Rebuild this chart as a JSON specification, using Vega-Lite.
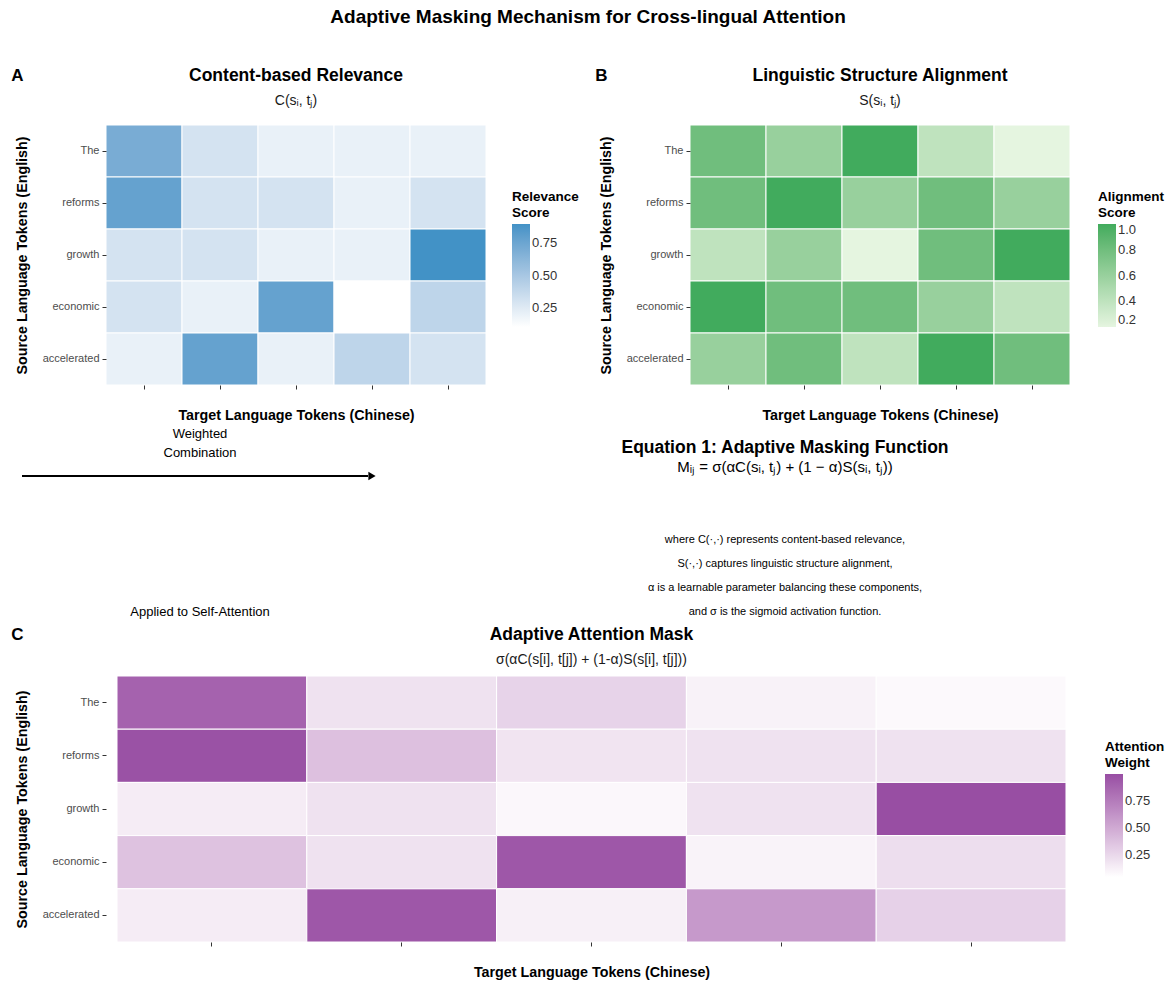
{
  "$schema": "https://vega.github.io/schema/vega-lite/v6.json",
  "background": "white",
  "padding": {"left": 11, "top": 8, "right": 4, "bottom": 4},
  "title": {"text": "Adaptive Masking Mechanism for Cross-lingual Attention", "fontSize": 19, "font": "Liberation Sans", "fontWeight": "bold", "color": "black", "anchor": "middle", "offset": 40},
  "config": {
    "font": "Liberation Sans",
    "view": {"stroke": null},
    "axis": {"domain": false, "grid": false, "ticks": true, "tickColor": "#333333", "tickSize": 4, "labelFont": "Liberation Sans", "labelFontSize": 11, "labelColor": "#4d4d4d", "titleFont": "Liberation Sans", "titleFontSize": 14.3, "titleFontWeight": "bold", "titleColor": "black"},
    "axisX": {"labels": false, "titlePadding": 19},
    "axisY": {"labelPadding": 3, "titlePadding": 13},
    "title": {"font": "Liberation Sans", "fontSize": 17.5, "fontWeight": "bold", "color": "black", "subtitleFont": "Liberation Sans", "subtitleFontSize": 14, "subtitleColor": "#1a1a1a", "subtitlePadding": 9, "offset": 17},
    "legend": {"titleFont": "Liberation Sans", "titleFontSize": 13.5, "titleFontWeight": "bold", "titleColor": "black", "labelFont": "Liberation Sans", "labelFontSize": 13, "labelColor": "#333333", "gradientLength": 103, "gradientThickness": 18, "gradientStrokeWidth": 0, "titlePadding": 5}
  },
  "datasets": {
    "relevance": [
      {"source": "The", "target": "改革", "score": 0.70}, {"source": "The", "target": "加速", "score": 0.30}, {"source": "The", "target": "经济", "score": 0.20}, {"source": "The", "target": "了", "score": 0.20}, {"source": "The", "target": "增长", "score": 0.20},
      {"source": "reforms", "target": "改革", "score": 0.78}, {"source": "reforms", "target": "加速", "score": 0.30}, {"source": "reforms", "target": "经济", "score": 0.30}, {"source": "reforms", "target": "了", "score": 0.20}, {"source": "reforms", "target": "增长", "score": 0.30},
      {"source": "growth", "target": "改革", "score": 0.30}, {"source": "growth", "target": "加速", "score": 0.30}, {"source": "growth", "target": "经济", "score": 0.20}, {"source": "growth", "target": "了", "score": 0.20}, {"source": "growth", "target": "增长", "score": 0.90},
      {"source": "economic", "target": "改革", "score": 0.30}, {"source": "economic", "target": "加速", "score": 0.20}, {"source": "economic", "target": "经济", "score": 0.78}, {"source": "economic", "target": "了", "score": 0.10}, {"source": "economic", "target": "增长", "score": 0.40},
      {"source": "accelerated", "target": "改革", "score": 0.20}, {"source": "accelerated", "target": "加速", "score": 0.78}, {"source": "accelerated", "target": "经济", "score": 0.20}, {"source": "accelerated", "target": "了", "score": 0.40}, {"source": "accelerated", "target": "增长", "score": 0.30}
    ],
    "alignment": [
      {"source": "The", "target": "改革", "score": 0.8}, {"source": "The", "target": "加速", "score": 0.6}, {"source": "The", "target": "经济", "score": 1.0}, {"source": "The", "target": "了", "score": 0.4}, {"source": "The", "target": "增长", "score": 0.2},
      {"source": "reforms", "target": "改革", "score": 0.8}, {"source": "reforms", "target": "加速", "score": 1.0}, {"source": "reforms", "target": "经济", "score": 0.6}, {"source": "reforms", "target": "了", "score": 0.8}, {"source": "reforms", "target": "增长", "score": 0.6},
      {"source": "growth", "target": "改革", "score": 0.4}, {"source": "growth", "target": "加速", "score": 0.6}, {"source": "growth", "target": "经济", "score": 0.2}, {"source": "growth", "target": "了", "score": 0.8}, {"source": "growth", "target": "增长", "score": 1.0},
      {"source": "economic", "target": "改革", "score": 1.0}, {"source": "economic", "target": "加速", "score": 0.8}, {"source": "economic", "target": "经济", "score": 0.8}, {"source": "economic", "target": "了", "score": 0.6}, {"source": "economic", "target": "增长", "score": 0.4},
      {"source": "accelerated", "target": "改革", "score": 0.6}, {"source": "accelerated", "target": "加速", "score": 0.8}, {"source": "accelerated", "target": "经济", "score": 0.4}, {"source": "accelerated", "target": "了", "score": 1.0}, {"source": "accelerated", "target": "增长", "score": 0.8}
    ],
    "mask": [
      {"source": "The", "target": "改革", "score": 0.89}, {"source": "The", "target": "加速", "score": 0.20}, {"source": "The", "target": "经济", "score": 0.28}, {"source": "The", "target": "了", "score": 0.12}, {"source": "The", "target": "增长", "score": 0.08},
      {"source": "reforms", "target": "改革", "score": 0.98}, {"source": "reforms", "target": "加速", "score": 0.38}, {"source": "reforms", "target": "经济", "score": 0.19}, {"source": "reforms", "target": "了", "score": 0.20}, {"source": "reforms", "target": "增长", "score": 0.20},
      {"source": "growth", "target": "改革", "score": 0.15}, {"source": "growth", "target": "加速", "score": 0.20}, {"source": "growth", "target": "经济", "score": 0.09}, {"source": "growth", "target": "了", "score": 0.20}, {"source": "growth", "target": "增长", "score": 1.00},
      {"source": "economic", "target": "改革", "score": 0.37}, {"source": "economic", "target": "加速", "score": 0.20}, {"source": "economic", "target": "经济", "score": 0.95}, {"source": "economic", "target": "了", "score": 0.11}, {"source": "economic", "target": "增长", "score": 0.22},
      {"source": "accelerated", "target": "改革", "score": 0.15}, {"source": "accelerated", "target": "加速", "score": 0.95}, {"source": "accelerated", "target": "经济", "score": 0.13}, {"source": "accelerated", "target": "了", "score": 0.59}, {"source": "accelerated", "target": "增长", "score": 0.29}
    ]
  },
  "resolve": {"scale": {"color": "independent"}},
  "spacing": 5,
  "vconcat": [
    {
      "resolve": {"scale": {"color": "independent"}},
      "spacing": 16,
      "hconcat": [
        {
          "title": {"text": "A", "anchor": "start", "frame": "bounds", "fontSize": 17, "offset": -18, "dx": -4},
          "vconcat": [
            {
              "width": 380, "height": 260,
              "title": {"text": "Content-based Relevance", "subtitle": "C(sᵢ, tⱼ)"},
              "data": {"name": "relevance"},
              "mark": {"type": "rect", "stroke": "white", "strokeWidth": 1},
              "encoding": {
                "x": {"field": "target", "type": "nominal", "sort": ["改革", "加速", "经济", "了", "增长"], "scale": {"paddingInner": 0, "paddingOuter": 0}, "axis": {"title": "Target Language Tokens (Chinese)"}},
                "y": {"field": "source", "type": "nominal", "sort": ["The", "reforms", "growth", "economic", "accelerated"], "scale": {"paddingInner": 0, "paddingOuter": 0}, "axis": {"title": "Source Language Tokens (English)"}},
                "color": {"field": "score", "type": "quantitative", "scale": {"domain": [0.1, 0.9], "range": ["#ffffff", "#4292c6"], "interpolate": "lab"}, "legend": {"title": ["Relevance", "Score"], "values": [0.25, 0.5, 0.75], "format": ".2f", "orient": "none", "legendX": 406, "legendY": 65}}
              }
            }
          ]
        },
        {
          "title": {"text": "B", "anchor": "start", "frame": "bounds", "fontSize": 17, "offset": -18, "dx": -4},
          "vconcat": [
            {
              "width": 380, "height": 260,
              "title": {"text": "Linguistic Structure Alignment", "subtitle": "S(sᵢ, tⱼ)"},
              "data": {"name": "alignment"},
              "mark": {"type": "rect", "stroke": "white", "strokeWidth": 1},
              "encoding": {
                "x": {"field": "target", "type": "nominal", "sort": ["改革", "加速", "经济", "了", "增长"], "scale": {"paddingInner": 0, "paddingOuter": 0}, "axis": {"title": "Target Language Tokens (Chinese)"}},
                "y": {"field": "source", "type": "nominal", "sort": ["The", "reforms", "growth", "economic", "accelerated"], "scale": {"paddingInner": 0, "paddingOuter": 0}, "axis": {"title": "Source Language Tokens (English)"}},
                "color": {"field": "score", "type": "quantitative", "scale": {"domain": [0.2, 1.0], "range": ["#e5f5e0", "#41ab5d"], "interpolate": "lab"}, "legend": {"title": ["Alignment", "Score"], "values": [0.2, 0.4, 0.6, 0.8, 1.0], "format": ".1f", "orient": "none", "legendX": 408, "legendY": 65}}
              }
            }
          ]
        }
      ]
    },
    {
      "width": 1045, "height": 191,
      "data": {"values": [{}]},
      "encoding": {
        "x": {"datum": 0, "type": "quantitative", "scale": {"domain": [0, 1045]}, "axis": null},
        "y": {"datum": 0, "type": "quantitative", "scale": {"domain": [0, 191], "reverse": true}, "axis": null}
      },
      "layer": [
        {"mark": {"type": "text", "text": "Weighted", "fontSize": 13, "color": "black", "baseline": "middle"}, "encoding": {"x": {"datum": 94}, "y": {"datum": 4}}},
        {"mark": {"type": "text", "text": "Combination", "fontSize": 13, "color": "black", "baseline": "middle"}, "encoding": {"x": {"datum": 94}, "y": {"datum": 23}}},
        {"mark": {"type": "rule", "color": "black", "strokeWidth": 2}, "encoding": {"x": {"datum": -84}, "x2": {"datum": 262}, "y": {"datum": 46}}},
        {"mark": {"type": "point", "shape": "triangle-right", "filled": true, "color": "black", "size": 70, "opacity": 1}, "encoding": {"x": {"datum": 266}, "y": {"datum": 46}}},
        {"mark": {"type": "text", "text": "Applied to Self-Attention", "fontSize": 13, "color": "black", "baseline": "middle"}, "encoding": {"x": {"datum": 94}, "y": {"datum": 182}}},
        {"mark": {"type": "text", "text": "Equation 1: Adaptive Masking Function", "fontSize": 17.5, "fontWeight": "bold", "color": "black", "baseline": "middle"}, "encoding": {"x": {"datum": 679}, "y": {"datum": 18}}},
        {"mark": {"type": "text", "text": "Mᵢⱼ = σ(αC(sᵢ, tⱼ) + (1 − α)S(sᵢ, tⱼ))", "fontSize": 15, "color": "black", "baseline": "middle"}, "encoding": {"x": {"datum": 679}, "y": {"datum": 37}}},
        {"mark": {"type": "text", "text": "where C(·,·) represents content-based relevance,", "fontSize": 11, "color": "black", "baseline": "middle"}, "encoding": {"x": {"datum": 679}, "y": {"datum": 110}}},
        {"mark": {"type": "text", "text": "S(·,·) captures linguistic structure alignment,", "fontSize": 11, "color": "black", "baseline": "middle"}, "encoding": {"x": {"datum": 679}, "y": {"datum": 134}}},
        {"mark": {"type": "text", "text": "α is a learnable parameter balancing these components,", "fontSize": 11, "color": "black", "baseline": "middle"}, "encoding": {"x": {"datum": 679}, "y": {"datum": 158}}},
        {"mark": {"type": "text", "text": "and σ is the sigmoid activation function.", "fontSize": 11, "color": "black", "baseline": "middle"}, "encoding": {"x": {"datum": 679}, "y": {"datum": 182}}}
      ]
    },
    {
      "title": {"text": "C", "anchor": "start", "frame": "bounds", "fontSize": 17, "offset": -18, "dx": -4},
      "vconcat": [
        {
          "width": 971, "height": 266,
          "title": {"text": "Adaptive Attention Mask", "subtitle": "σ(αC(s[i], t[j]) + (1-α)S(s[i], t[j]))", "offset": 9},
          "data": {"name": "mask"},
          "mark": {"type": "rect", "stroke": "white", "strokeWidth": 1},
          "encoding": {
            "x": {"field": "target", "type": "nominal", "sort": ["改革", "加速", "经济", "了", "增长"], "scale": {"paddingInner": 0, "paddingOuter": 0.058}, "axis": {"title": "Target Language Tokens (Chinese)"}},
            "y": {"field": "source", "type": "nominal", "sort": ["The", "reforms", "growth", "economic", "accelerated"], "scale": {"paddingInner": 0, "paddingOuter": 0}, "axis": {"title": "Source Language Tokens (English)"}},
            "color": {"field": "score", "type": "quantitative", "scale": {"domain": [0.05, 1.0], "range": ["#ffffff", "#984ea3"], "interpolate": "lab"}, "legend": {"title": ["Attention", "Weight"], "values": [0.25, 0.5, 0.75], "format": ".2f", "orient": "none", "legendX": 999, "legendY": 64}}
          }
        }
      ]
    }
  ]
}
